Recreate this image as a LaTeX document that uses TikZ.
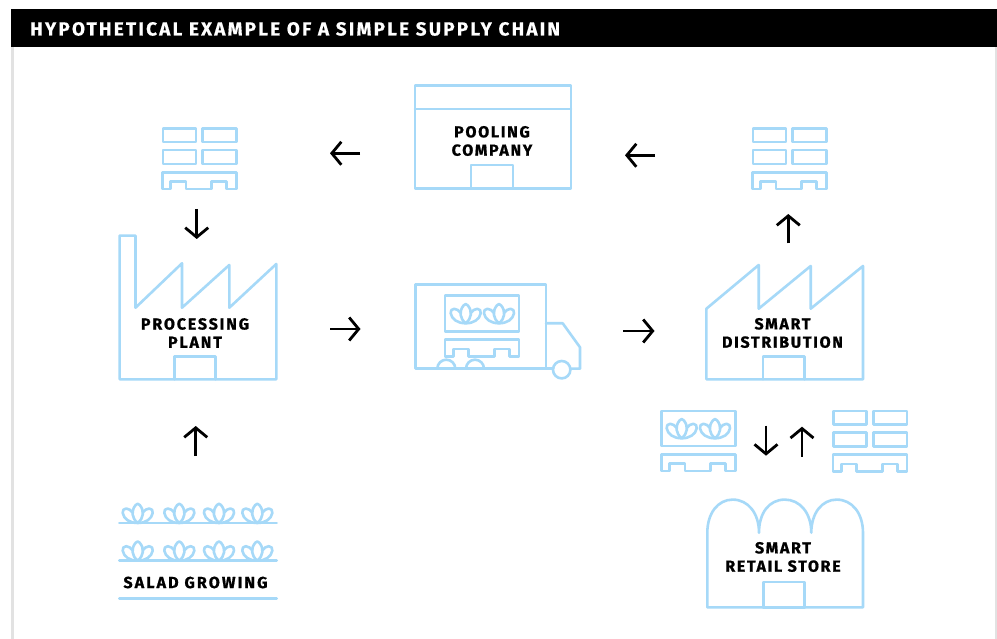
\documentclass[tikz,border=0pt]{standalone}
\usepackage{fontspec}
\setmainfont{Fira Sans}[LetterSpace=10.5,BoldFeatures={FakeBold=0.9}]
\newfontfamily\titlefont{Fira Sans}[LetterSpace=11.7,BoldFeatures={FakeBold=0.5}]
\usetikzlibrary{arrows.meta}
\definecolor{iconblue}{HTML}{A6D9F8}
\definecolor{panelgrey}{HTML}{E2E2E2}
\tikzset{
  icon/.style={draw=iconblue,line width=2.6pt,line join=round,line cap=round},
  flow/.style={draw=black,line width=2.8pt,-{Straight Barb[length=9.5pt,width=23pt,line width=2.8pt]}},
  label/.style={font=\bfseries\fontsize{16}{18.3}\selectfont,align=center,text=black,inner sep=0pt},
  pics/plantsprig/.style={code={
    \draw[icon] (0,0) .. controls (-6,-5) and (-7,-12) .. (-2,-18) .. controls (-1,-19.6) and (1,-19.6) .. (2,-18) .. controls (7,-12) and (6,-5) .. (0,0);
    \draw[icon] (-5.2,-10.5) .. controls (-6.5,-12.5) and (-9,-14.5) .. (-11.5,-14.5) .. controls (-14,-14.5) and (-15.5,-12.5) .. (-15,-10) .. controls (-14,-4) and (-8,0) .. (0,0)
       .. controls (8,0) and (14,-4) .. (15,-10) .. controls (15.5,-12.5) and (14,-14.5) .. (11.5,-14.5) .. controls (9,-14.5) and (6.5,-12.5) .. (5.2,-10.5);
  }},
  pics/palletbase/.style={code={
    \draw[icon] (0.3,0.3) -- (74.4,0.3) -- (74.4,17) -- (64.7,17) -- (64.7,9.5) -- (49.7,9.5) -- (49.7,17) -- (24,17) -- (24,9.5) -- (8.7,9.5) -- (8.7,17) -- (0.3,17) -- cycle;
  }},
  pics/palletstack/.style={code={
    \draw[icon] (0.9,0.5) rectangle (34,14.2);
    \draw[icon] (40.7,0.5) rectangle (74.4,14.2);
    \draw[icon] (0.9,22.2) rectangle (34,36);
    \draw[icon] (40.7,22.2) rectangle (74.4,36);
    \pic at (0,44) {palletbase};
  }},
}
\begin{document}
\begin{tikzpicture}[x=1pt,y=-1pt]
\useasboundingbox (0,0) rectangle (997,639);
\fill[white] (0,0) rectangle (997,639);
% panel
\fill[panelgrey] (11,47) rectangle (14,639);
\fill[panelgrey] (995,47) rectangle (997,639);
\fill[black] (11,9) rectangle (997,46.7);
\node[anchor=base west,inner sep=0pt,text=white,font=\titlefont\bfseries\fontsize{18.9}{20}\selectfont] (title) at (30,35.5) {HYPOTHETICAL EXAMPLE OF A SIMPLE SUPPLY CHAIN};

% top pallet stacks
\pic at (162,128) {palletstack};
\pic at (752,128) {palletstack};

% pooling company
\draw[icon] (415,85.5) rectangle (571,188.7);
\draw[icon] (415,109) -- (571,109);
\draw[icon] (471,188.7) -- (471,165) -- (513,165) -- (513,188.7);
\node[label] (pooling) at (492,141) {POOLING\\COMPANY};

% processing plant
\draw[icon] (119.6,379.3) -- (119.6,235.6) -- (135.5,235.6) -- (135.5,307.7) -- (182,263.3) -- (182,307.7) -- (229.3,265) -- (229.3,307.7) -- (276.3,264) -- (276.3,379.3) -- cycle;
\draw[icon] (174.7,379.3) -- (174.7,356.7) -- (215.7,356.7) -- (215.7,379.3);
\node[label,font=\bfseries\fontsize{16}{18.3}\selectfont\addfontfeature{LetterSpace=11.5}] (plant) at (195,333) {PROCESSING\\PLANT};

% truck
\draw[icon] (415.3,284.3) rectangle (546,368.7);
\draw[icon] (546,323.3) -- (562.7,323.3) -- (580,347.3) -- (580,368.7) -- (570.4,368.7);
\draw[icon] (546,368.7) -- (553,368.7);
\draw[icon] (561.7,369.7) circle[radius=8.7];
\draw[icon] (437.3,368.7) arc[start angle=180,end angle=0,x radius=9,y radius=-9];
\draw[icon] (466,368.7) arc[start angle=180,end angle=0,x radius=9,y radius=-9];
\draw[icon] (445,295.7) rectangle (519,331.3);
\pic at (465.7,323.3) {plantsprig};
\pic at (499,323.3) {plantsprig};
\pic at (444.5,339.5) {palletbase};

% smart distribution
\draw[icon] (706.4,379.3) -- (706.4,308.7) -- (758.7,265) -- (758.7,308.7) -- (810.7,266) -- (810.7,308.7) -- (863,266) -- (863,379.3) -- cycle;
\draw[icon] (763,379.3) -- (763,356.7) -- (804.3,356.7) -- (804.3,379.3);
\node[label] (distribution) at (782.5,333) {SMART\\DISTRIBUTION};

% crate with pallet
\draw[icon] (661.7,410.9) rectangle (735.3,446);
\pic at (681.7,438.3) {plantsprig};
\pic at (715,438.3) {plantsprig};
\pic at (661,454) {palletbase};
\pic at (832.5,410.3) {palletstack};

% retail store
\draw[icon] (707.3,607.3) -- (707.3,533) .. controls (707.3,513) and (718,499.6) .. (732.7,499.6) .. controls (748,499.6) and (759,513) .. (759,532.7)
  .. controls (759,513) and (769,499.6) .. (784.8,499.6) .. controls (800,499.6) and (811.3,513) .. (811.3,532.7)
  .. controls (811.3,513) and (822,499.6) .. (836.7,499.6) .. controls (852,499.6) and (863,513) .. (863,533) -- (863,607.3) -- cycle;
\draw[icon] (763.3,608) -- (763.3,582) -- (804.3,582) -- (804.3,608) -- cycle;
\node[label] (store) at (783,557) {SMART\\RETAIL STORE};

% salad growing
\foreach \rowy in {523,560.7}{
  \foreach \sx in {137.7,179.3,219,257.3}{
    \pic at (\sx,\rowy) {plantsprig};
  }
  \draw[icon] (119.3,\rowy) -- (276.7,\rowy);
}
\draw[icon] (119.3,598.3) -- (276.7,598.3);
\node[label,font=\bfseries\fontsize{16}{18.3}\selectfont\addfontfeature{LetterSpace=13.3}] (salad) at (195.5,582.5) {SALAD GROWING};

% connector ends
\coordinate (a1s) at (360,153.3); \coordinate (a1e) at (330,153.3);
\coordinate (a2s) at (655,155.3); \coordinate (a2e) at (625,155.3);
\coordinate (a3s) at (196.7,209); \coordinate (a3e) at (196.7,239);
\coordinate (a4s) at (330,329); \coordinate (a4e) at (360.5,329);
\coordinate (a5s) at (623,331); \coordinate (a5e) at (654.5,331);
\coordinate (a6s) at (788.3,243.5); \coordinate (a6e) at (788.3,214);
\coordinate (a7s) at (195.7,456); \coordinate (a7e) at (195.7,426);
\coordinate (a8s) at (766,425.7); \coordinate (a8e) at (766,455.7);
\coordinate (a9s) at (802,456.7); \coordinate (a9e) at (802,426.7);
\foreach \n in {1,...,9}{ \draw[flow] (a\n s) -- (a\n e); }
\end{tikzpicture}
\end{document}
